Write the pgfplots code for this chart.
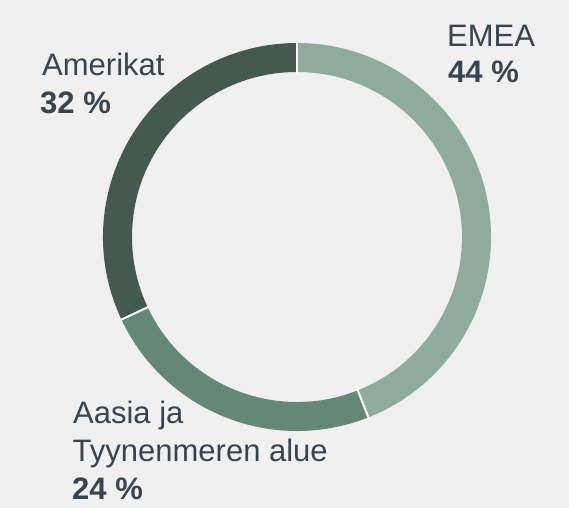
\documentclass[border=0pt]{standalone}
\usepackage{pgfplots}
\usepackage{pgfplotstable}
\pgfplotsset{compat=1.18}
\usepackage{fontspec}
\setmainfont{Liberation Sans}

\definecolor{bg}{RGB}{240,240,240}
\definecolor{emea}{RGB}{143,171,157}
\definecolor{apac}{RGB}{101,135,118}
\definecolor{amer}{RGB}{68,90,80}
\definecolor{txt}{RGB}{57,68,78}

% share of each region, percent
\pgfplotstableread{
region share
EMEA 44
APAC 24
Americas 32
}\sharetable

\begin{document}
\begin{tikzpicture}
\pgfplotstablegetelem{0}{share}\of\sharetable \let\sEMEA\pgfplotsretval
\pgfplotstablegetelem{1}{share}\of\sharetable \let\sAPAC\pgfplotsretval
\pgfplotstablegetelem{2}{share}\of\sharetable \let\sAMER\pgfplotsretval
\pgfmathsetmacro\aA{90}
\pgfmathsetmacro\aB{\aA-3.6*\sEMEA}
\pgfmathsetmacro\aC{\aB-3.6*\sAPAC}
\pgfmathsetmacro\aD{\aC-3.6*\sAMER}
\def\Ro{194bp}
\def\Ri{165bp}
\def\th{-29bp}
\begin{axis}[
  width=569bp, height=508bp, scale only axis,
  xmin=0, xmax=569, ymin=-508, ymax=0,
  enlargelimits=false, hide axis, clip=false
]
\fill[bg] (axis cs:0,0) rectangle (axis cs:569,-508);
% ring slices
\fill[emea] (axis cs:297,-237) ++(\aA:\Ro) arc[start angle=\aA, end angle=\aB, radius=\Ro]
  -- ++(\aB:\th) arc[start angle=\aB, end angle=\aA, radius=\Ri] -- cycle;
\fill[apac] (axis cs:297,-237) ++(\aB:\Ro) arc[start angle=\aB, end angle=\aC, radius=\Ro]
  -- ++(\aC:\th) arc[start angle=\aC, end angle=\aB, radius=\Ri] -- cycle;
\fill[amer] (axis cs:297,-237) ++(\aC:\Ro) arc[start angle=\aC, end angle=\aD, radius=\Ro]
  -- ++(\aD:\th) arc[start angle=\aD, end angle=\aC, radius=\Ri] -- cycle;
% white separators
\draw[white, line width=2bp] (axis cs:297,-237) ++(\aA:163bp) -- ++(\aA:32bp);
\draw[white, line width=2bp] (axis cs:297,-237) ++(\aB:163bp) -- ++(\aB:32bp);
\draw[white, line width=2bp] (axis cs:297,-237) ++(\aC:163bp) -- ++(\aC:32bp);
% labels
\begin{scope}[every node/.style={anchor=base west, inner sep=0pt, text=txt,
    font=\fontsize{31bp}{37bp}\selectfont}]
\node at (axis cs:447,-46.7) {EMEA};
\node[font=\fontsize{31bp}{37bp}\selectfont\bfseries] at (axis cs:448,-83) {44 \%};
\node at (axis cs:42,-75.7) {Amerikat};
\node[font=\fontsize{31bp}{37bp}\selectfont\bfseries] at (axis cs:40,-114) {32 \%};
\node at (axis cs:73,-423.3) {Aasia ja};
\node at (axis cs:72.5,-461.7) {Tyynenmeren alue};
\node[font=\fontsize{31bp}{37bp}\selectfont\bfseries] at (axis cs:72,-499.3) {24 \%};
\end{scope}
\end{axis}
\end{tikzpicture}
\end{document}
